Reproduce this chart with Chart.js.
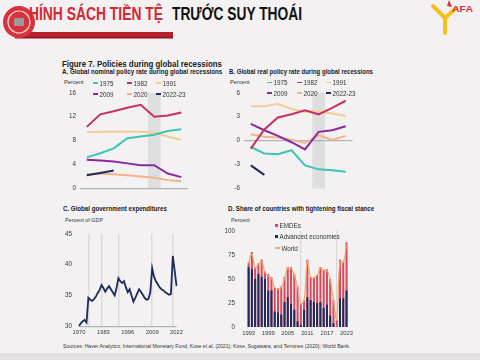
<!DOCTYPE html>
<html><head><meta charset="utf-8">
<script src="https://cdn.jsdelivr.net/npm/chart.js@4.4.1/dist/chart.umd.min.js"></script>
<style>
html,body{margin:0;padding:0;}
body{width:480px;height:360px;background:#f3f1f2;position:relative;overflow:hidden;font-family:"Liberation Sans",Arial,sans-serif;}
.t{position:absolute;white-space:nowrap;transform-origin:left center;display:inline-block;color:#1a1a1a;}
canvas{position:absolute;}
.lg{position:absolute;white-space:nowrap;font-size:6.3px;line-height:7px;color:#333;display:flex;align-items:center;}
.lg i{display:inline-block;margin-right:1.5px;}
</style></head>
<body>
<!-- slide header -->
<svg style="position:absolute;left:0;top:0" width="480" height="48">
  <rect x="15" y="32" width="158" height="6" fill="#b51f2b"/>
  <rect x="15" y="37" width="158" height="1.5" fill="#8e1620"/>
  <circle cx="19" cy="22" r="16" fill="#d8323c"/>
  <circle cx="19" cy="22" r="11" fill="none" stroke="#f4d7d8" stroke-width="1.2"/>
  <rect x="14" y="18" width="10" height="8" rx="1" fill="#9a9a9a"/>
  <path d="M445 18 L433 6 M445 18 L456 8 M445 18 L445 33" stroke="#f2c21b" stroke-width="4" stroke-linecap="round" fill="none"/>
  <path d="M449 0 L452 7 L447 6 Z" fill="#d8323c"/>
</svg>
<div class="t" data-w="134" style="left:29px;top:4.5px;font-size:18px;line-height:18px;font-weight:bold;color:#d6282f">HÍNH SÁCH TIỀN TỆ</div>
<div class="t" data-w="130" style="left:172px;top:4.5px;font-size:18px;line-height:18px;font-weight:bold;color:#111">TRƯỚC SUY THOÁI</div>
<div class="t" data-w="21" style="left:452px;top:5px;font-size:9px;line-height:9px;font-weight:bold;color:#d8323c">AFA</div>
<div style="position:absolute;left:0;top:353px;width:480px;height:7px;background:#e2e0e2"></div>

<!-- figure texts -->
<div class="t" data-w="160" style="left:62px;top:59.5px;font-size:8.5px;line-height:8.5px;font-weight:bold">Figure 7. Policies during global recessions</div>
<div class="t" data-w="160" style="left:62px;top:68.5px;font-size:6.5px;line-height:6.5px;font-weight:bold">A. Global nominal policy rate during global recessions</div>
<div class="t" data-w="144" style="left:229px;top:68.5px;font-size:6.5px;line-height:6.5px;font-weight:bold">B. Global real policy rate during global recessions</div>
<div class="t" data-w="104" style="left:63px;top:206px;font-size:6.5px;line-height:6.5px;font-weight:bold">C. Global government expenditures</div>
<div class="t" data-w="146" style="left:228px;top:206px;font-size:6.5px;line-height:6.5px;font-weight:bold">D. Share of countries with tightening fiscal stance</div>
<div class="t" data-w="20" style="left:64px;top:79px;font-size:6px;line-height:6px;color:#333">Percent</div>
<div class="t" data-w="20" style="left:230px;top:79px;font-size:6px;line-height:6px;color:#333">Percent</div>
<div class="t" data-w="38" style="left:65px;top:217px;font-size:6px;line-height:6px;color:#333">Percent of GDP</div>
<div class="t" data-w="19" style="left:231px;top:217px;font-size:6px;line-height:6px;color:#333">Percent</div>
<div class="t" data-w="287" style="left:63px;top:344px;font-size:5px;line-height:5px;color:#333">Sources: Haver Analytics; International Monetary Fund; Kose et al. (2021); Kose, Sugawara, and Terrones (2020); World Bank.</div>

<canvas id="cA" width="135" height="114" style="left:55px;top:85px"></canvas>
<canvas id="cB" width="133" height="114" style="left:222px;top:85px"></canvas>
<canvas id="cC" width="131" height="114" style="left:55px;top:223px"></canvas>
<canvas id="cD" width="134" height="114" style="left:222px;top:223px"></canvas>

<script>
// ---------- DATA ----------
const periods = ['t-5','t-4','t-3','t-2','t-1','t','t+1','t+2'];
const recessionLabels = ['1975','1982','1991','2009','2020','2022-23'];

const nominal1975 = [5.2, 5.9, 6.7, 8.4, 8.7, 9.0, 9.6, 9.9];
const nominal1982 = [10.3, 12.4, 12.9, 13.5, 14.0, 12.0, 12.2, 12.7];
const nominal1991 = [9.4, 9.5, 9.5, 9.5, 9.5, 9.3, 8.7, 8.1];
const nominal2009 = [4.8, 4.7, 4.5, 4.2, 3.9, 3.9, 2.5, 1.9];
const nominal2020 = [2.4, 2.5, 2.4, 2.2, 2.0, 1.8, 1.4, 1.2];
const nominal2022 = [2.2, 2.6, 3.0, null, null, null, null, null];

const real1975 = [-0.8, -1.6, -1.7, -1.2, -3.1, -3.6, -3.7, -3.9];
const real1982 = [-1.0, 1.4, 2.9, 3.3, 3.8, 3.3, 4.1, 5.0];
const real1991 = [4.3, 4.3, 4.6, 4.0, 3.6, 3.7, 3.4, 3.1];
const real2009 = [2.1, 1.3, 0.6, -0.2, -1.1, 1.1, 1.3, 1.8];
const real2020 = [0.8, 0.5, 0.4, 0.1, -0.3, 0.7, 0.1, 0.6];
const real2022 = [-3.1, -4.3, null, null, null, null, null, null];

const expYears = [];
for (let y = 1970; y <= 2022; y++) expYears.push(y);
const expenditure = [30.0, 30.5, 30.8, 31.0, 30.6, 34.6, 34.3, 34.1, 34.4, 34.8,
  35.4, 35.9, 36.7, 36.2, 35.6, 36.1, 36.5, 36.0, 35.5, 35.0,
  36.2, 37.8, 37.3, 37.0, 37.3, 36.3, 35.5, 36.0, 35.0, 34.0,
  34.6, 35.3, 36.0, 35.6, 35.1, 34.6, 34.3, 34.4, 35.5, 39.4,
  38.0, 37.3, 36.8, 36.3, 36.0, 35.8, 35.5, 35.3, 35.1, 35.2,
  41.4, 39.0, 36.5];
const expTickYears = [1970, 1983, 1996, 2009, 2022];
const expRecessionYears = [1975, 1982, 1991, 2009, 2020];

const fiscalYears = [];
for (let y = 1993; y <= 2023; y++) fiscalYears.push(y);
const emdeShare = [67, 78, 62, 66, 70, 58, 55, 52, 41, 40, 42, 52, 62, 62, 55, 42, 24, 28, 70, 52, 51, 54, 62, 59, 60, 50, 28, 7, 70, 68, 88];
const aeShare   = [62, 60, 50, 55, 52, 50, 38, 38, 16, 15, 13, 26, 31, 24, 18, 6, 2, 18, 31, 28, 26, 25, 26, 20, 23, 12, 4, 0, 30, 30, 38];
const worldShare = [66, 76, 61, 65, 68, 57, 53, 51, 41, 39, 41, 50, 61, 61, 54, 41, 24, 28, 68, 52, 51, 54, 61, 59, 59, 49, 28, 8, 68, 67, 86];
const fiscalTickStep = 6;
const fiscalRecessionYears = [2009, 2020];

// ---------- STYLE ----------
const COLORS = {'1975':'#3fc3b3','1982':'#c9305f','1991':'#f4cc98','2009':'#8a2aa3','2020':'#efb48a','2022-23':'#1f2b5e'};
const NAVY = '#1c2a5c', RED = '#d9485a', WORLD = '#f3a56c';
const FAM = '"Liberation Sans", Arial, sans-serif';
const f = (s) => ({family: FAM, size: s});
const tickColor = '#3a3a3a';
Chart.defaults.font.family = FAM;

// scale text to measured widths
document.querySelectorAll('[data-w]').forEach(el => {
  const w = el.offsetWidth;
  el.style.transform = 'scaleX(' + (parseFloat(el.dataset.w) / w) + ')';
});

// legends (HTML)
function addLegend(x0, y0, cols, rowH, colX) {
  recessionLabels.forEach((lab, i) => {
    const d = document.createElement('div');
    d.className = 'lg';
    d.style.left = (x0 + colX[i % cols]) + 'px';
    d.style.top = (y0 + Math.floor(i / cols) * rowH) + 'px';
    d.innerHTML = '<i style="width:5px;height:1.6px;background:' + COLORS[lab] + '"></i>' + lab;
    document.body.appendChild(d);
  });
}
addLegend(93, 79.5, 3, 11, [0, 34, 63]);
addLegend(267, 79, 3, 10.5, [0, 30, 59]);
(function(){
  const items = [['EMDEs', RED, 'sq'], ['Advanced economies', NAVY, 'sq'], ['World', WORLD, 'ln']];
  items.forEach((it, i) => {
    const d = document.createElement('div');
    d.className = 'lg';
    d.style.left = '275px';
    d.style.top = (221.5 + i * 11.5) + 'px';
    d.innerHTML = (it[2] === 'sq'
      ? '<i style="width:3px;height:3px;background:' + it[1] + '"></i>'
      : '<i style="width:5px;height:1.4px;background:' + it[1] + '"></i>') + it[0];
    document.body.appendChild(d);
  });
})();

// shaded recession band plugin
const bandPlugin = {
  id: 'band',
  beforeDatasetsDraw(chart, args, opts) {
    if (opts.index == null) return;
    const {ctx, chartArea, scales} = chart;
    const x = scales.x;
    const w = x.getPixelForValue(1) - x.getPixelForValue(0);
    const cx = x.getPixelForValue(opts.index);
    ctx.save();
    ctx.fillStyle = 'rgba(175,175,178,0.3)';
    ctx.fillRect(cx - w * 0.47, chartArea.top, w * 0.94, chartArea.bottom - chartArea.top);
    ctx.restore();
  }
};

function lineDs(label, data, width) {
  return {label, data, borderColor: COLORS[label], backgroundColor: COLORS[label], borderWidth: width || 2,
          pointRadius: 0, tension: 0, spanGaps: false};
}

function rateChart(id, sets, ymin, ymax, step, yw, padR) {
  return new Chart(document.getElementById(id), {
    type: 'line',
    data: {labels: periods, datasets: sets},
    options: {
      responsive: false, animation: false, devicePixelRatio: 1,
      layout: {padding: {top: 7, right: padR, bottom: 0, left: 0}, autoPadding: false},
      plugins: {legend: {display: false}, tooltip: {enabled: false}, band: {index: 5}},
      scales: {
        x: {type: 'category', offset: true, grid: {display: false}, border: {display: false},
            ticks: {font: f(5.8), color: tickColor, padding: 4, maxRotation: 0, autoSkip: false},
            afterFit: s => { s.height = 10.5; }},
        y: {min: ymin, max: ymax, ticks: {stepSize: step, font: f(6.3), color: tickColor, padding: 4},
            grid: {drawTicks: false, color: c => c.tick.value === 0 ? '#b3b3b3' : 'rgba(0,0,0,0)', lineWidth: 1.3},
            border: {display: false}, afterFit: s => { s.width = yw; }}
      }
    },
    plugins: [bandPlugin]
  });
}

rateChart('cA', [
  lineDs('2022-23', nominal2022), lineDs('1975', nominal1975), lineDs('1982', nominal1982),
  lineDs('2009', nominal2009), lineDs('1991', nominal1991), lineDs('2020', nominal2020)
], 0, 16, 4, 25, 2);

rateChart('cB', [
  lineDs('2022-23', real2022), lineDs('1982', real1982), lineDs('2009', real2009),
  lineDs('1975', real1975), lineDs('1991', real1991), lineDs('2020', real2020)
], -6, 6, 3, 22, 2.5);

new Chart(document.getElementById('cC'), {
  type: 'line',
  data: {labels: expYears, datasets: [{label: 'Expenditures', data: expenditure, borderColor: NAVY,
         borderWidth: 1.8, pointRadius: 0, tension: 0}]},
  options: {
    responsive: false, animation: false, devicePixelRatio: 1,
    layout: {padding: {top: 7, right: 2, bottom: 0, left: 0}, autoPadding: false},
    plugins: {legend: {display: false}, tooltip: {enabled: false}},
    scales: {
      x: {type: 'category', offset: false, border: {display: false},
          grid: {drawTicks: false, lineWidth: 1.5,
                 color: c => expRecessionYears.includes(expYears[c.index]) ? '#dcdadc' : 'rgba(0,0,0,0)'},
          ticks: {font: f(5.8), color: tickColor, padding: 3, maxRotation: 0, autoSkip: false,
                  callback: (v, i) => expTickYears.includes(expYears[i]) ? String(expYears[i]) : ''},
          afterFit: s => { s.height = 10; }},
      y: {min: 30, max: 45, ticks: {stepSize: 5, font: f(6.3), color: tickColor, padding: 7},
          grid: {drawTicks: false, color: c => c.tick.value === 30 ? '#b3b3b3' : 'rgba(0,0,0,0)', lineWidth: 1.3},
          border: {display: false}, afterFit: s => { s.width = 24; }}
    }
  }
});

new Chart(document.getElementById('cD'), {
  type: 'bar',
  data: {labels: fiscalYears, datasets: [
    {type: 'line', label: 'World', data: worldShare, borderColor: WORLD, borderWidth: 1.2, pointRadius: 0,
     tension: 0.4, order: 0},
    {label: 'Advanced economies', data: aeShare, backgroundColor: NAVY, order: 1,
     barPercentage: 0.62, categoryPercentage: 1},
    {label: 'EMDEs', data: emdeShare, backgroundColor: RED, order: 2,
     barPercentage: 0.62, categoryPercentage: 1}
  ]},
  options: {
    responsive: false, animation: false, devicePixelRatio: 1,
    layout: {padding: {top: 7, right: 2, bottom: 0, left: 0}, autoPadding: false},
    plugins: {legend: {display: false}, tooltip: {enabled: false}},
    scales: {
      x: {stacked: true, offset: true, border: {display: false},
          grid: {offset: false, drawTicks: false, lineWidth: 1.2,
                 color: c => fiscalRecessionYears.includes(fiscalYears[c.index]) ? '#d9d7d9' : 'rgba(0,0,0,0)'},
          ticks: {font: f(5.8), color: tickColor, padding: 3, maxRotation: 0, autoSkip: false,
                  callback: (v, i) => (fiscalYears[i] - fiscalYears[0]) % fiscalTickStep === 0 ? String(fiscalYears[i]) : ''},
          afterFit: s => { s.height = 10; }},
      y: {stacked: false, min: 0, max: 100, ticks: {stepSize: 25, font: f(6.3), color: tickColor, padding: 4},
          grid: {display: false}, border: {display: false}, afterFit: s => { s.width = 25; }}
    }
  }
});
</script>
</body></html>
